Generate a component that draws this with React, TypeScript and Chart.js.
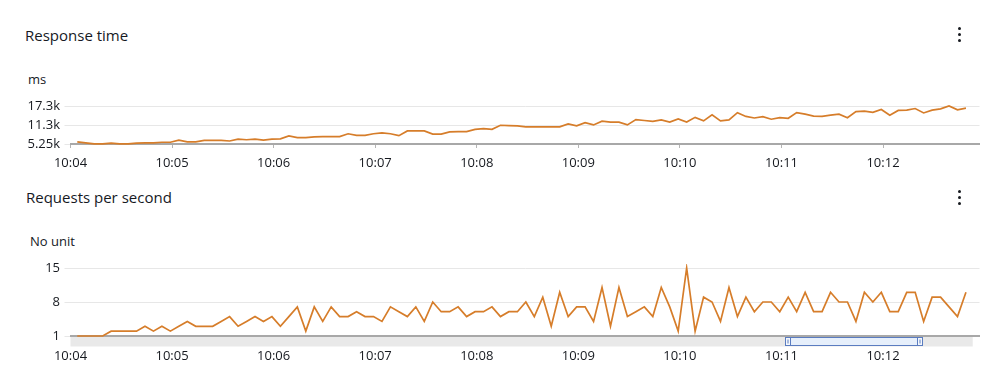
import React, { useEffect, useRef } from "react";
import { Chart, registerables } from "chart.js";

Chart.register(...registerables);

// Sampling: one point every 5 s, first sample at 10:04:04
const FIRST_SAMPLE_SECONDS = 4;
const SAMPLE_STEP_SECONDS = 5;

const X_TICK_SECONDS = [0, 60, 120, 180, 240, 300, 360, 420, 480];
const X_TICK_LABELS = ["10:04", "10:05", "10:06", "10:07", "10:08", "10:09", "10:10", "10:11", "10:12"];
const X_MAX_SECONDS = 537;

const RT_TICKS = [5250, 11275, 17300];
const RT_TICK_LABELS = ["5.25k", "11.3k", "17.3k"];

const RPS_TICKS = [1, 8, 15];
const RPS_TICK_LABELS = ["1", "8", "15"];

const RESPONSE_TIME_MS = [
  5900, 5600, 5300, 5300, 5500, 5300, 5300, 5500, 5600, 5600,
  5800, 5800, 6500, 5900, 5900, 6400, 6400, 6400, 6200, 6800,
  6600, 6800, 6500, 6800, 6900, 7800, 7300, 7300, 7500, 7600,
  7600, 7600, 8500, 8000, 8000, 8500, 8800, 8500, 7900, 9400,
  9400, 9400, 8400, 8400, 9100, 9200, 9200, 9900, 10100, 9900,
  11200, 11100, 11000, 10700, 10700, 10700, 10700, 10700, 11600, 11000,
  12000, 11300, 12500, 12200, 12200, 11300, 13000, 12700, 12400, 12900,
  12200, 13200, 12200, 13700, 12600, 14500, 12600, 12900, 15200, 14000,
  13500, 13900, 13100, 13600, 13400, 15200, 14700, 14100, 14000, 14400,
  14700, 13600, 15500, 15700, 15300, 16200, 14400, 15900, 16000, 16500,
  15100, 16000, 16400, 17300, 16100, 16600,
];

const REQUESTS_PER_SECOND = [
  1, 1, 1, 1, 2, 2, 2, 2, 3, 2,
  3, 2, 3, 4, 3, 3, 3, 4, 5, 3,
  4, 5, 4, 5, 3, 5, 7, 2, 7, 4,
  7, 5, 5, 6, 5, 5, 4, 7, 6, 5,
  7, 4, 8, 6, 6, 7, 5, 6, 6, 7,
  5, 6, 6, 8, 5, 9, 3, 10, 5, 7,
  7, 4, 11, 3, 11, 5, 6, 7, 5, 11,
  7, 2, 15, 2, 9, 8, 4, 11, 5, 9,
  6, 8, 8, 6, 9, 6, 10, 6, 6, 10,
  8, 8, 4, 10, 8, 10, 6, 6, 10, 10,
  4, 9, 9, 7, 5, 10,
];

// scroll window shown under the lower chart (seconds after 10:04)
const SCROLL_TRACK_END = 533;
const SCROLL_THUMB = [422, 503];

const LINE_COLOR = "#d67d2a";
const TEXT_COLOR = "#16191f";
const GRID_COLOR = "#e7e7e7";
const FONT_FAMILY = "'Open Sans', 'Noto Sans', sans-serif";

function toPoints(values: number[]) {
  return values.map((v, i) => ({ x: FIRST_SAMPLE_SECONDS + i * SAMPLE_STEP_SECONDS, y: v }));
}

const scrollPlugin = {
  id: "scrollBand",
  afterDraw(chart: any) {
    const { ctx, chartArea, scales } = chart;
    const xs = scales.x;
    const top = chartArea.bottom + 1;
    const h = 9.5;
    ctx.save();
    ctx.fillStyle = "#e9e9e9";
    ctx.fillRect(chartArea.left, top, xs.getPixelForValue(SCROLL_TRACK_END) - chartArea.left, h);
    const x0 = Math.round(xs.getPixelForValue(SCROLL_THUMB[0])) + 0.5;
    const x1 = Math.round(xs.getPixelForValue(SCROLL_THUMB[1])) + 0.5;
    const y0 = Math.round(top) + 0.5;
    const y1 = y0 + 8;
    ctx.fillStyle = "#e6effb";
    ctx.fillRect(x0, y0, x1 - x0, y1 - y0);
    ctx.strokeStyle = "#5a7cc0";
    ctx.lineWidth = 1;
    ctx.strokeRect(x0, y0, x1 - x0, y1 - y0);
    ctx.fillStyle = "#f4f7fc";
    ctx.fillRect(x0, y0, 5, y1 - y0);
    ctx.strokeRect(x0, y0, 5, y1 - y0);
    ctx.fillRect(x1 - 5, y0, 5, y1 - y0);
    ctx.strokeRect(x1 - 5, y0, 5, y1 - y0);
    ctx.beginPath();
    ctx.moveTo(x0 + 2.5, y0 + 2);
    ctx.lineTo(x0 + 2.5, y1 - 2);
    ctx.moveTo(x1 - 2.5, y0 + 2);
    ctx.lineTo(x1 - 2.5, y1 - 2);
    ctx.stroke();
    ctx.restore();
  },
};

function buildConfig(
  values: number[],
  yTicks: number[],
  yLabels: string[],
  padTop: number,
  xAxisHeight: number,
  xTickMarks: boolean,
  xLabelPadding: number,
  plugins: any[]
): any {
  return {
    type: "line",
    data: {
      datasets: [
        {
          data: toPoints(values),
          borderColor: LINE_COLOR,
          borderWidth: 1.7,
          pointRadius: 0,
          tension: 0,
          fill: false,
          clip: 4,
        },
      ],
    },
    plugins,
    options: {
      animation: false,
      responsive: false,
      maintainAspectRatio: false,
      layout: { padding: { top: padTop, right: 20.5, bottom: 0, left: 0 } },
      plugins: { legend: { display: false }, tooltip: { enabled: false } },
      scales: {
        x: {
          type: "linear",
          min: 0,
          max: X_MAX_SECONDS,
          afterBuildTicks: (s: any) => {
            s.ticks = X_TICK_SECONDS.map((v) => ({ value: v }));
          },
          afterFit: (s: any) => {
            s.height = xAxisHeight;
          },
          ticks: {
            autoSkip: false,
            maxRotation: 0,
            padding: xLabelPadding,
            color: TEXT_COLOR,
            font: { family: FONT_FAMILY, size: 13 },
            callback: (v: number) => X_TICK_LABELS[X_TICK_SECONDS.indexOf(v)],
          },
          grid: {
            drawOnChartArea: false,
            drawTicks: xTickMarks,
            tickLength: 4,
            color: "#b5b5b5",
          },
          border: { display: true, color: "#a8a8a8", width: 2 },
        },
        y: {
          min: yTicks[0],
          max: yTicks[yTicks.length - 1],
          afterBuildTicks: (s: any) => {
            s.ticks = yTicks.map((v) => ({ value: v }));
          },
          afterFit: (s: any) => {
            s.width = 70.5;
          },
          ticks: {
            padding: 4.5,
            color: TEXT_COLOR,
            font: { family: FONT_FAMILY, size: 13 },
            callback: (v: number) => yLabels[yTicks.indexOf(v)],
          },
          grid: { color: GRID_COLOR, drawTicks: true, tickLength: 6 },
          border: { display: false },
        },
      },
    },
  };
}

function Kebab({ top }: { top: number }) {
  const dot = (dy: number) => (
    <div
      key={dy}
      style={{
        position: "absolute",
        left: 957.5,
        top: top + dy,
        width: 3.4,
        height: 3.4,
        borderRadius: "50%",
        background: "#16191f",
      }}
    />
  );
  return <>{[0, 6, 12].map(dot)}</>;
}

export default function App() {
  const topRef = useRef<HTMLCanvasElement | null>(null);
  const botRef = useRef<HTMLCanvasElement | null>(null);

  useEffect(() => {
    const c1 = new Chart(
      topRef.current as HTMLCanvasElement,
      buildConfig(RESPONSE_TIME_MS, RT_TICKS, RT_TICK_LABELS, 16, 36, true, 7.5, [])
    );
    const c2 = new Chart(
      botRef.current as HTMLCanvasElement,
      buildConfig(REQUESTS_PER_SECOND, RPS_TICKS, RPS_TICK_LABELS, 13, 44, false, 12, [scrollPlugin])
    );
    return () => {
      c1.destroy();
      c2.destroy();
    };
  }, []);

  const text = (t: string, left: number, top: number, size: number) => (
    <div
      style={{
        position: "absolute",
        left,
        top,
        fontFamily: FONT_FAMILY,
        fontSize: size,
        lineHeight: "20px",
        color: TEXT_COLOR,
        whiteSpace: "nowrap",
      }}
    >
      {t}
    </div>
  );

  return (
    <div
      style={{
        position: "absolute",
        left: 0,
        top: 0,
        width: 1000,
        height: 390,
        background: "#ffffff",
        overflow: "hidden",
      }}
    >
      {text("Response time", 25, 25, 15)}
      {text("ms", 28, 69, 13)}
      <Kebab top={26.5} />
      <canvas
        ref={topRef}
        width={1000}
        height={90}
        style={{ position: "absolute", left: 0, top: 90, width: 1000, height: 90 }}
      />
      {text("Requests per second", 26, 187, 15)}
      {text("No unit", 30, 231, 13)}
      <Kebab top={189.5} />
      <canvas
        ref={botRef}
        width={1000}
        height={125}
        style={{ position: "absolute", left: 0, top: 255, width: 1000, height: 125 }}
      />
    </div>
  );
}
